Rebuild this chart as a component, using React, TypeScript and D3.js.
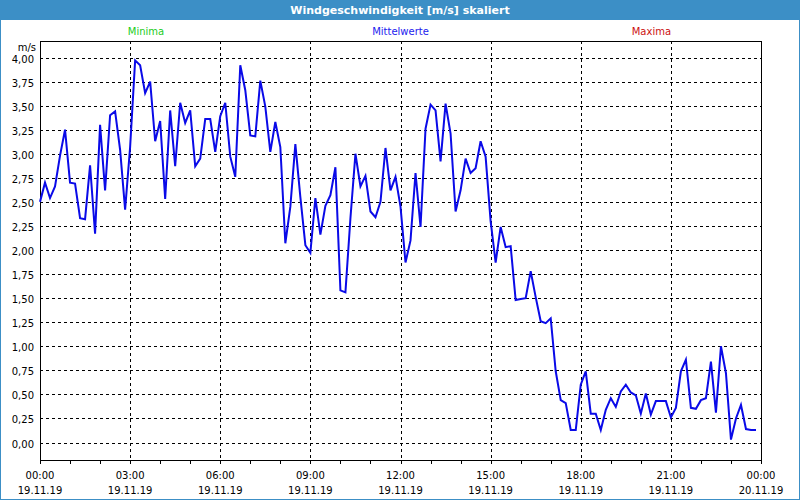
import React from "react";
import * as d3 from "d3";

const TITLE = "Windgeschwindigkeit [m/s] skaliert";
const UNIT = "m/s";
const LEGEND = [
  { label: "Minima", color: "#22cc22", pos: 0.147 },
  { label: "Mittelwerte", color: "#2222ee", pos: 0.5 },
  { label: "Maxima", color: "#cc1010", pos: 0.848 },
];
const Y_TICKS = [0, 0.25, 0.5, 0.75, 1, 1.25, 1.5, 1.75, 2, 2.25, 2.5, 2.75, 3, 3.25, 3.5, 3.75, 4];
const X_TIME_LABELS = ["00:00", "03:00", "06:00", "09:00", "12:00", "15:00", "18:00", "21:00", "00:00"];
const X_DATE_LABELS = ["19.11.19", "19.11.19", "19.11.19", "19.11.19", "19.11.19", "19.11.19", "19.11.19", "19.11.19", "20.11.19"];
const STEP_MINUTES = 10;

// Wind speed (m/s), one value every 10 minutes, 19.11.19 00:00 .. 23:50
const windValues = [
  2.50, 2.70, 2.54, 2.66, 2.98, 3.25, 2.70, 2.69, 2.33, 2.32,
  2.88, 2.17, 3.30, 2.62, 3.40, 3.44, 3.04, 2.42, 3.07, 3.97,
  3.92, 3.63, 3.75, 3.13, 3.34, 2.53, 3.45, 2.87, 3.53, 3.32,
  3.45, 2.87, 2.95, 3.36, 3.36, 3.02, 3.39, 3.53, 2.97, 2.76,
  3.92, 3.66, 3.19, 3.18, 3.76, 3.49, 3.02, 3.33, 3.07, 2.07,
  2.45, 3.10, 2.55, 2.05, 1.97, 2.54, 2.16, 2.46, 2.57, 2.86,
  1.58, 1.56, 2.33, 3.00, 2.66, 2.77, 2.40, 2.34, 2.50, 3.06,
  2.62, 2.76, 2.45, 1.87, 2.10, 2.80, 2.24, 3.26, 3.51, 3.45,
  2.92, 3.52, 3.21, 2.40, 2.62, 2.95, 2.80, 2.85, 3.13, 2.97,
  2.30, 1.87, 2.24, 2.03, 2.04, 1.48, 1.49, 1.50, 1.78, 1.51,
  1.26, 1.24, 1.29, 0.74, 0.44, 0.41, 0.13, 0.13, 0.60, 0.74,
  0.30, 0.30, 0.13, 0.34, 0.46, 0.37, 0.53, 0.60, 0.52, 0.49,
  0.30, 0.51, 0.29, 0.43, 0.43, 0.43, 0.26, 0.36, 0.74, 0.86,
  0.36, 0.35, 0.44, 0.46, 0.84, 0.31, 1.00, 0.72, 0.03, 0.25,
  0.39, 0.14, 0.13, 0.13,
];

const W = 800;
const H = 500;
const PL = 40;
const PR = 761;
const PT = 41;
const PB = 460;
const BLUE = "#3c8fc6";
const FONT = "'DejaVu Sans', Verdana, sans-serif";

export default function App() {
  const x = d3.scaleLinear().domain([0, 1440]).range([PL, PR]);
  const y = d3.scaleLinear().domain([0, 4]).range([442.5, 57.5]);
  const hourTicks = d3.range(0, 1441, 60);
  const majorTicks = d3.range(0, 1441, 180);

  const line = d3
    .line<number>()
    .x((_, i) => x(i * STEP_MINUTES))
    .y((d) => y(d));

  return (
    <svg
      width={W}
      height={H}
      style={{ position: "absolute", left: 0, top: 0, display: "block" }}
      fontFamily={FONT}
    >
      <rect x={0} y={0} width={W} height={H} fill="#ffffff" />
      <rect x={0.5} y={0.5} width={W - 1} height={H - 1} fill="none" stroke={BLUE} strokeWidth={1} />
      <rect x={0} y={0} width={W} height={20} fill={BLUE} />
      <text x={W / 2} y={14} textAnchor="middle" fill="#ffffff" fontWeight="bold" fontSize={11}>
        {TITLE}
      </text>

      {LEGEND.map((l) => (
        <text key={l.label} x={PL + (PR - PL) * l.pos} y={35} textAnchor="middle" fill={l.color} fontSize={10}>
          {l.label}
        </text>
      ))}

      <text x={36} y={51} textAnchor="end" fontSize={10} fill="#000">
        {UNIT}
      </text>

      {/* horizontal grid */}
      {Y_TICKS.map((v) => (
        <g key={"y" + v}>
          <line
            x1={PL}
            x2={PR}
            y1={Math.round(y(v)) + 0.5}
            y2={Math.round(y(v)) + 0.5}
            stroke="#000"
            strokeWidth={1}
            strokeDasharray="3,3"
          />
          <text x={34} y={Math.round(y(v)) + 4.5} textAnchor="end" fontSize={10} fill="#000">
            {v.toFixed(2).replace(".", ",")}
          </text>
        </g>
      ))}

      {/* vertical grid */}
      {majorTicks.slice(1, -1).map((m) => (
        <line
          key={"vx" + m}
          x1={Math.round(x(m)) + 0.5}
          x2={Math.round(x(m)) + 0.5}
          y1={PT}
          y2={PB}
          stroke="#000"
          strokeWidth={1}
          strokeDasharray="3,3"
        />
      ))}

      {/* hour ticks */}
      {hourTicks.map((m) => (
        <line
          key={"t" + m}
          x1={Math.round(x(m)) + 0.5}
          x2={Math.round(x(m)) + 0.5}
          y1={PB}
          y2={PB + 4}
          stroke="#000"
          strokeWidth={1}
        />
      ))}

      {majorTicks.map((m, i) => (
        <g key={"xl" + m}>
          <text x={x(m)} y={479} textAnchor="middle" fontSize={10} fill="#000">
            {X_TIME_LABELS[i]}
          </text>
          <text x={x(m)} y={494} textAnchor="middle" fontSize={10} fill="#000">
            {X_DATE_LABELS[i]}
          </text>
        </g>
      ))}

      {/* frame */}
      <rect x={PL + 0.5} y={PT + 0.5} width={PR - PL} height={PB - PT} fill="none" stroke="#000" strokeWidth={1} />

      <path d={line(windValues) || ""} fill="none" stroke="#0a0ae8" strokeWidth={2} strokeLinejoin="miter" />
    </svg>
  );
}
